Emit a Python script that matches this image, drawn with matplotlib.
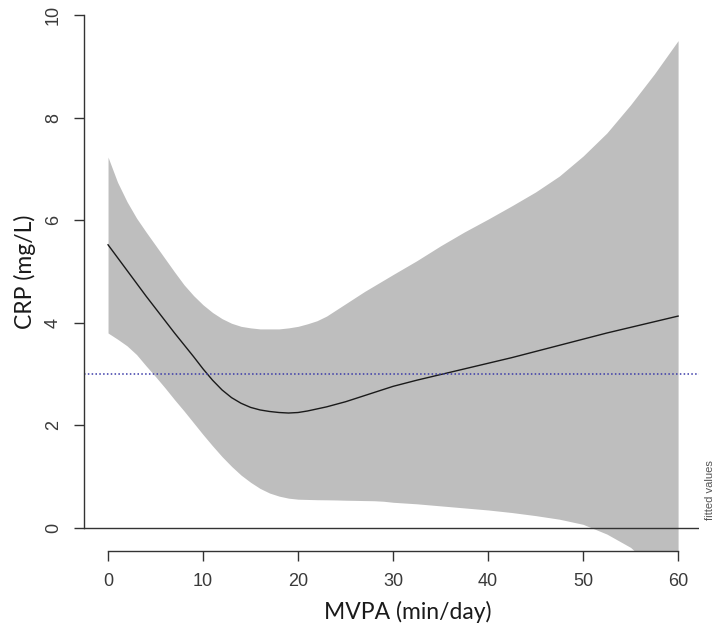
import matplotlib
matplotlib.use("Agg")
import matplotlib.pyplot as plt

# Data
mvpa = [0, 1, 2, 3, 4, 5, 6, 7, 8, 9, 10, 11, 12, 13, 14, 15, 16, 17, 18, 19, 20,
        21, 22, 23, 24, 25, 26, 27, 28, 29, 30,
        32.5, 35, 37.5, 40, 42.5, 45, 47.5, 50, 52.5, 55, 57.5, 60]
crp_fit = [5.52, 5.27, 5.02, 4.77, 4.52, 4.28, 4.04, 3.80, 3.57, 3.34, 3.10,
           2.88, 2.69, 2.54, 2.43, 2.35, 2.30, 2.27, 2.25, 2.24, 2.25,
           2.28, 2.32, 2.36, 2.41, 2.46, 2.52, 2.58, 2.64, 2.70, 2.76,
           2.88, 2.99, 3.10, 3.21, 3.32, 3.44, 3.56, 3.68, 3.80, 3.91, 4.02, 4.13]
crp_upper = [7.23, 6.74, 6.36, 6.04, 5.77, 5.51, 5.25, 4.99, 4.74, 4.53, 4.35,
             4.20, 4.08, 3.99, 3.93, 3.90, 3.88, 3.88, 3.88, 3.90, 3.93,
             3.98, 4.04, 4.13, 4.25, 4.37, 4.49, 4.61, 4.72, 4.83, 4.94,
             5.21, 5.50, 5.77, 6.02, 6.28, 6.55, 6.86, 7.25, 7.70, 8.25, 8.85, 9.50]
crp_lower = [3.80, 3.68, 3.55, 3.38, 3.16, 2.95, 2.73, 2.50, 2.28, 2.05, 1.82,
             1.60, 1.39, 1.20, 1.03, 0.89, 0.77, 0.68, 0.62, 0.58, 0.56,
             0.555, 0.55, 0.548, 0.545, 0.54, 0.537, 0.533, 0.53, 0.52, 0.50,
             0.47, 0.43, 0.39, 0.35, 0.30, 0.24, 0.17, 0.07, -0.12, -0.38, -0.80, -1.30]
reference_level = 3
x_ticks = [0, 10, 20, 30, 40, 50, 60]
y_ticks = [0, 2, 4, 6, 8, 10]

W, H = 717, 628
fig = plt.figure(figsize=(W / 100, H / 100), dpi=100)
ax = fig.add_axes([84 / W, (H - 551) / H, (699 - 84) / W, (551 - 15) / H])

ax.fill_between(mvpa, crp_lower, crp_upper, color="#bebebe", linewidth=0)
ax.plot(mvpa, crp_fit, color="#1a1a1a", lw=1.0)
ax.axhline(reference_level, color="#3a3aa8", lw=1.1, ls=(0, (1, 1.5)))
ax.axhline(0, color="#333333", lw=1.0)

ax.set_xlim(-2.53, 62.2)
ax.set_ylim(-0.45, 10)

for s in ["top", "right"]:
    ax.spines[s].set_visible(False)
ax.spines["left"].set_bounds(0, 10)
ax.spines["bottom"].set_bounds(0, 60)
for s in ["left", "bottom"]:
    ax.spines[s].set_color("#333333")
    ax.spines[s].set_linewidth(1.0)

ax.set_xticks(x_ticks)
ax.set_yticks(y_ticks)
ax.set_yticklabels([str(v) for v in y_ticks], rotation=90, va="center")
ax.tick_params(axis="both", length=7, width=1.0, color="#333333",
               labelcolor="#3a3a3a", labelsize=13)
ax.tick_params(axis="x", pad=9)
ax.tick_params(axis="y", pad=9)
for lab in ax.get_xticklabels() + ax.get_yticklabels():
    lab.set_family("Liberation Sans")

fig.text(408 / W, 1 - 612 / H, "MVPA (min/day)", fontsize=16.5, family="Lato",
         color="#1a1a1a", ha="center", va="center")
fig.text(25 / W, 1 - 272 / H, "CRP (mg/L)", fontsize=16.5, family="Lato",
         color="#1a1a1a", ha="center", va="center", rotation=90)

fig.text(710 / W, 1 - 490 / H, "fitted values", rotation=90, ha="center", va="center",
         fontsize=8, color="#555555", family="Liberation Sans")

fig.savefig("out.png", dpi=100)
